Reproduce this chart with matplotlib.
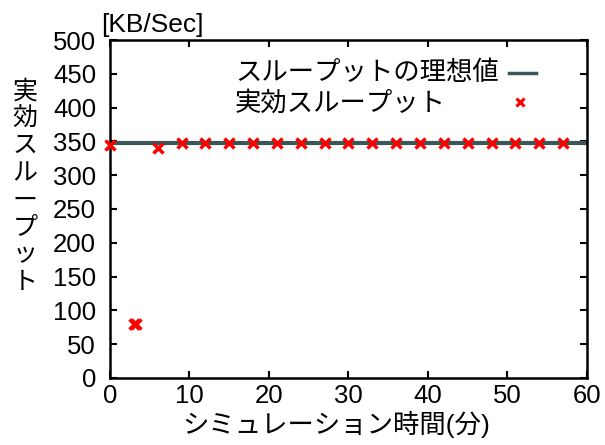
import matplotlib
matplotlib.use("Agg")
import matplotlib.pyplot as plt

plt.rcParams['font.family'] = ['Liberation Sans', 'Noto Sans CJK JP', 'DejaVu Sans']

# Measured throughput over simulation time
time_min = [0, 3, 3.3, 6, 9, 12, 15, 18, 21, 24, 27, 30, 33, 36, 39, 42, 45, 48, 51, 54, 57]
throughput = [345, 80, 80, 340, 347, 347, 347, 347, 347, 347, 347, 347, 347, 347, 347,
              347, 347, 347, 347, 347, 347]
ideal_throughput = 347

x_ticks = [0, 10, 20, 30, 40, 50, 60]
y_ticks = [0, 50, 100, 150, 200, 250, 300, 350, 400, 450, 500]

ideal_label = 'スループットの理想値'
measured_label = '実効スループット'
y_label = '実効スループット'

line_color = '#3b5757'
mark_color = 'red'

fig = plt.figure(figsize=(6.05, 4.45), dpi=100)
ax = fig.add_axes([0.1818, 0.1506, 0.7884, 0.7595])

ax.axhline(ideal_throughput, color=line_color, lw=3)
ax.plot(time_min, throughput, 'x', color=mark_color, ms=7, mew=2.5, ls='none',
        clip_on=False, zorder=3)

ax.set_xlim(0, 60)
ax.set_ylim(0, 500)
ax.set_xticks(x_ticks)
ax.set_yticks(y_ticks)
ax.tick_params(direction='in', top=True, right=True, length=5, width=1.5,
               labelsize=18.5)
ax.tick_params(axis='x', pad=4)
ax.tick_params(axis='y', pad=10)
for s in ax.spines.values():
    s.set_linewidth(1.8)

ax.set_xlabel('シミュレーション時間(分)', fontsize=19, labelpad=2, x=0.474)

# vertical (stacked) y-axis label
for i, ch in enumerate(y_label):
    fig.text(25 / 605, 1 - (92 + i * 27.1) / 445, ch, fontsize=18,
             ha='center', va='center')

ax.text(0.088, 1.01, '[KB/Sec]', transform=ax.transAxes, fontsize=19,
        ha='center', va='bottom')

# key: labels on the left, samples on the right
ax.text(0.262, 0.902, ideal_label, transform=ax.transAxes, fontsize=19,
        ha='left', va='center')
ax.text(0.262, 0.813, measured_label, transform=ax.transAxes, fontsize=19,
        ha='left', va='center')
ax.plot([0.836, 0.893], [0.902, 0.902], transform=ax.transAxes,
        color=line_color, lw=2.5, clip_on=False)
ax.plot([0.86], [0.817], 'x', transform=ax.transAxes, color=mark_color,
        ms=6, mew=2.2, clip_on=False)

fig.savefig('out.png', dpi=100)
